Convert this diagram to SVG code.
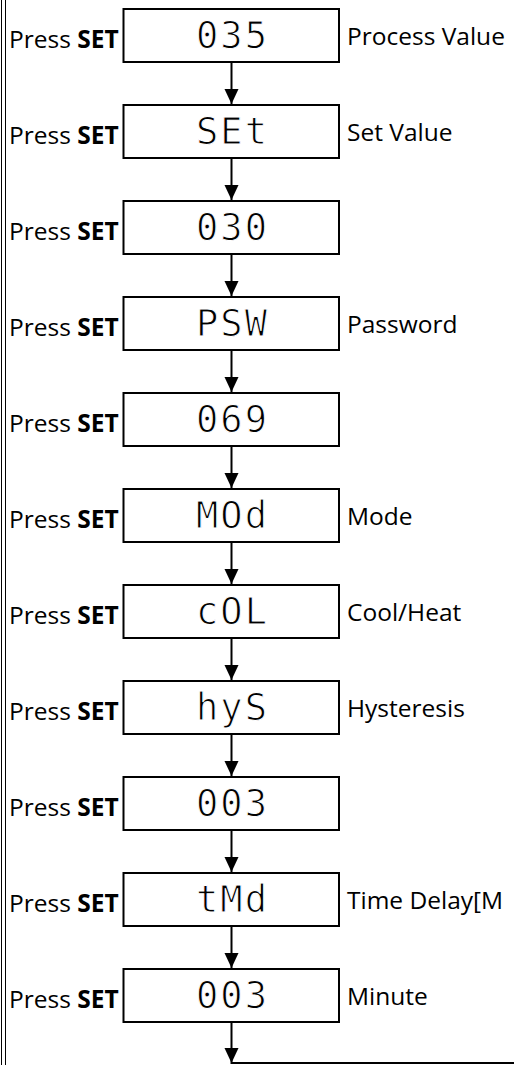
<svg xmlns="http://www.w3.org/2000/svg" width="514" height="1065" viewBox="0 0 514 1065">
<style>
.box{fill:#fff;stroke:#000;stroke-width:2}
.lbl{font-family:"Open Sans","Noto Sans",sans-serif;font-size:24.5px;fill:#000}
.lbl tspan.b{font-weight:bold}
.seg{font-family:"DejaVu Sans Mono",monospace;font-size:37px;fill:#000;stroke:#fff;stroke-width:1px;letter-spacing:2px;text-anchor:middle}
.wire{stroke:#000;stroke-width:2;fill:none}
</style>
<rect width="514" height="1065" fill="#fff"/>
<g id="border">
<line x1="1.5" y1="0" x2="1.5" y2="1065" stroke="#000" stroke-width="1"/>
<line x1="5.5" y1="0" x2="5.5" y2="1065" stroke="#000" stroke-width="1"/>
</g>
<g id="connectors">
<line class="wire" x1="231.5" y1="62" x2="231.5" y2="104"/>
<line class="wire" x1="231.5" y1="158" x2="231.5" y2="200"/>
<line class="wire" x1="231.5" y1="254" x2="231.5" y2="296"/>
<line class="wire" x1="231.5" y1="350" x2="231.5" y2="392"/>
<line class="wire" x1="231.5" y1="446" x2="231.5" y2="488"/>
<line class="wire" x1="231.5" y1="542" x2="231.5" y2="584"/>
<line class="wire" x1="231.5" y1="638" x2="231.5" y2="680"/>
<line class="wire" x1="231.5" y1="734" x2="231.5" y2="776"/>
<line class="wire" x1="231.5" y1="830" x2="231.5" y2="872"/>
<line class="wire" x1="231.5" y1="926" x2="231.5" y2="968"/>
<g fill="#000">
<path d="M224.5,89 L238.5,89 L231.5,104 Z"/>
<path d="M224.5,185 L238.5,185 L231.5,200 Z"/>
<path d="M224.5,281 L238.5,281 L231.5,296 Z"/>
<path d="M224.5,377 L238.5,377 L231.5,392 Z"/>
<path d="M224.5,473 L238.5,473 L231.5,488 Z"/>
<path d="M224.5,569 L238.5,569 L231.5,584 Z"/>
<path d="M224.5,665 L238.5,665 L231.5,680 Z"/>
<path d="M224.5,761 L238.5,761 L231.5,776 Z"/>
<path d="M224.5,857 L238.5,857 L231.5,872 Z"/>
<path d="M224.5,953 L238.5,953 L231.5,968 Z"/>
<path d="M224.5,1048 L238.5,1048 L231.5,1063 Z"/>
</g>
<polyline class="wire" points="231.5,1022 231.5,1063 514,1063"/>
</g>
<g id="n1"><text class="lbl" x="9" y="48">Press <tspan class="b">SET</tspan></text><rect class="box" x="123.5" y="9" width="215.5" height="53"/><text class="seg" x="232.5" y="48">035</text><text class="lbl" x="347" y="45">Process Value</text></g>
<g id="n2"><text class="lbl" x="9" y="144">Press <tspan class="b">SET</tspan></text><rect class="box" x="123.5" y="105" width="215.5" height="53"/><text class="seg" x="232.5" y="144">SEt</text><text class="lbl" x="347" y="141">Set Value</text></g>
<g id="n3"><text class="lbl" x="9" y="240">Press <tspan class="b">SET</tspan></text><rect class="box" x="123.5" y="201" width="215.5" height="53"/><text class="seg" x="232.5" y="240">030</text></g>
<g id="n4"><text class="lbl" x="9" y="336">Press <tspan class="b">SET</tspan></text><rect class="box" x="123.5" y="297" width="215.5" height="53"/><text class="seg" x="232.5" y="336">PSW</text><text class="lbl" x="347" y="333">Password</text></g>
<g id="n5"><text class="lbl" x="9" y="432">Press <tspan class="b">SET</tspan></text><rect class="box" x="123.5" y="393" width="215.5" height="53"/><text class="seg" x="232.5" y="432">069</text></g>
<g id="n6"><text class="lbl" x="9" y="528">Press <tspan class="b">SET</tspan></text><rect class="box" x="123.5" y="489" width="215.5" height="53"/><text class="seg" x="232.5" y="528">MOd</text><text class="lbl" x="347" y="525">Mode</text></g>
<g id="n7"><text class="lbl" x="9" y="624">Press <tspan class="b">SET</tspan></text><rect class="box" x="123.5" y="585" width="215.5" height="53"/><text class="seg" x="232.5" y="624">cOL</text><text class="lbl" x="347" y="621">Cool/Heat</text></g>
<g id="n8"><text class="lbl" x="9" y="720">Press <tspan class="b">SET</tspan></text><rect class="box" x="123.5" y="681" width="215.5" height="53"/><text class="seg" x="232.5" y="720">hyS</text><text class="lbl" x="347" y="717">Hysteresis</text></g>
<g id="n9"><text class="lbl" x="9" y="816">Press <tspan class="b">SET</tspan></text><rect class="box" x="123.5" y="777" width="215.5" height="53"/><text class="seg" x="232.5" y="816">003</text></g>
<g id="n10"><text class="lbl" x="9" y="912">Press <tspan class="b">SET</tspan></text><rect class="box" x="123.5" y="873" width="215.5" height="53"/><text class="seg" x="232.5" y="912">tMd</text><text class="lbl" x="347" y="909">Time Delay[M</text></g>
<g id="n11"><text class="lbl" x="9" y="1008">Press <tspan class="b">SET</tspan></text><rect class="box" x="123.5" y="969" width="215.5" height="53"/><text class="seg" x="232.5" y="1008">003</text><text class="lbl" x="347" y="1005">Minute</text></g>
</svg>
